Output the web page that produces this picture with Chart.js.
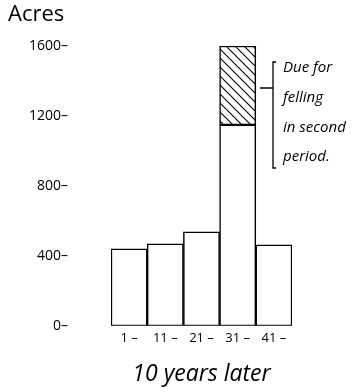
<!DOCTYPE html>
<html><head><meta charset="utf-8">
<script src="https://cdn.jsdelivr.net/npm/chart.js@4/dist/chart.umd.min.js"></script>
<style>html,body{margin:0;padding:0;background:#fff}#wrap{width:359px;height:392px}</style>
</head><body><div id="wrap"><canvas id="c" width="359" height="392"></canvas></div>
<script>
const categories = ['1 –', '11 –', '21 –', '31 –', '41 –'];
const remainingAcres = [440, 469, 537, 1149, 463];
const dueForFelling = [0, 0, 0, 451, 0];
const yTicks = [0, 400, 800, 1200, 1600];
const annotationLines = ['Due for', 'felling', 'in second', 'period.'];

function hatch() {
  const s = 9, p = document.createElement('canvas');
  p.width = s; p.height = s;
  const g = p.getContext('2d');
  g.fillStyle = '#fff'; g.fillRect(0, 0, s, s);
  g.strokeStyle = '#000'; g.lineWidth = 1.1;
  g.beginPath();
  g.moveTo(-1, -1); g.lineTo(s + 1, s + 1);
  g.moveTo(-1, s - 1); g.lineTo(1, s + 1);
  g.moveTo(s - 1, -1); g.lineTo(s + 1, 1);
  g.stroke();
  return g.createPattern(p, 'repeat');
}
const FONT = '"Open Sans", Lato, sans-serif';

const annot = {
  id: 'annot',
  afterDraw(chart) {
    const ctx = chart.ctx, a = chart.chartArea;
    const bx = a.right - 19, top = a.top + 16, bot = a.top + 122, mid = a.top + 42;
    ctx.save();
    ctx.strokeStyle = '#000'; ctx.lineWidth = 1.3;
    ctx.beginPath();
    ctx.moveTo(bx + 3, top); ctx.lineTo(bx, top); ctx.lineTo(bx, bot); ctx.lineTo(bx + 3, bot);
    ctx.moveTo(bx - 13, mid); ctx.lineTo(bx, mid);
    ctx.stroke();
    ctx.fillStyle = '#000';
    ctx.font = 'italic 15px ' + FONT;
    ctx.textBaseline = 'middle'; ctx.textAlign = 'left';
    annotationLines.forEach((t, i) => ctx.fillText(t, bx + 10, a.top + 22 + i * 29.7));
    ctx.restore();
  }
};

new Chart(document.getElementById('c'), {
  type: 'bar',
  data: {
    labels: categories,
    datasets: [
      { data: remainingAcres, backgroundColor: '#fff', borderColor: '#000', borderWidth: 1.5, borderSkipped: false },
      { data: dueForFelling, backgroundColor: hatch(), borderColor: '#000', borderWidth: 1.5, borderSkipped: false }
    ]
  },
  options: {
    responsive: false, animation: false,
    devicePixelRatio: 1,
    layout: { padding: { left: 8, right: 67, top: 2, bottom: 4 } },
    datasets: { bar: { barPercentage: 1, categoryPercentage: 1 } },
    plugins: {
      legend: { display: false }, tooltip: { enabled: false },
      title: { display: true, text: 'Acres', align: 'start', color: '#000',
        font: { family: FONT, size: 22, weight: 'normal' }, padding: { top: 0, bottom: 17.6 } }
    },
    scales: {
      x: {
        stacked: true,
        grid: { display: false, drawTicks: false }, border: { display: false },
        ticks: { color: '#000', font: { family: FONT, size: 13 }, padding: 5, autoSkip: false, maxRotation: 0 },
        title: { display: true, text: '10 years later', color: '#000',
          font: { family: FONT, size: 23, style: 'italic' }, padding: { top: 9, bottom: 0 } }
      },
      y: {
        stacked: true, min: 0, max: 1600,
        afterBuildTicks(s) { s.ticks = yTicks.map(v => ({ value: v })); },
        afterFit(s) { s.width = 103; s.paddingTop = 0; s.paddingBottom = 0; },
        grid: { display: false, drawTicks: false }, border: { display: false },
        ticks: { color: '#000', font: { family: FONT, size: 14 }, padding: 43,
          callback: v => v + '–' }
      }
    }
  },
  plugins: [annot]
});
</script></body></html>
